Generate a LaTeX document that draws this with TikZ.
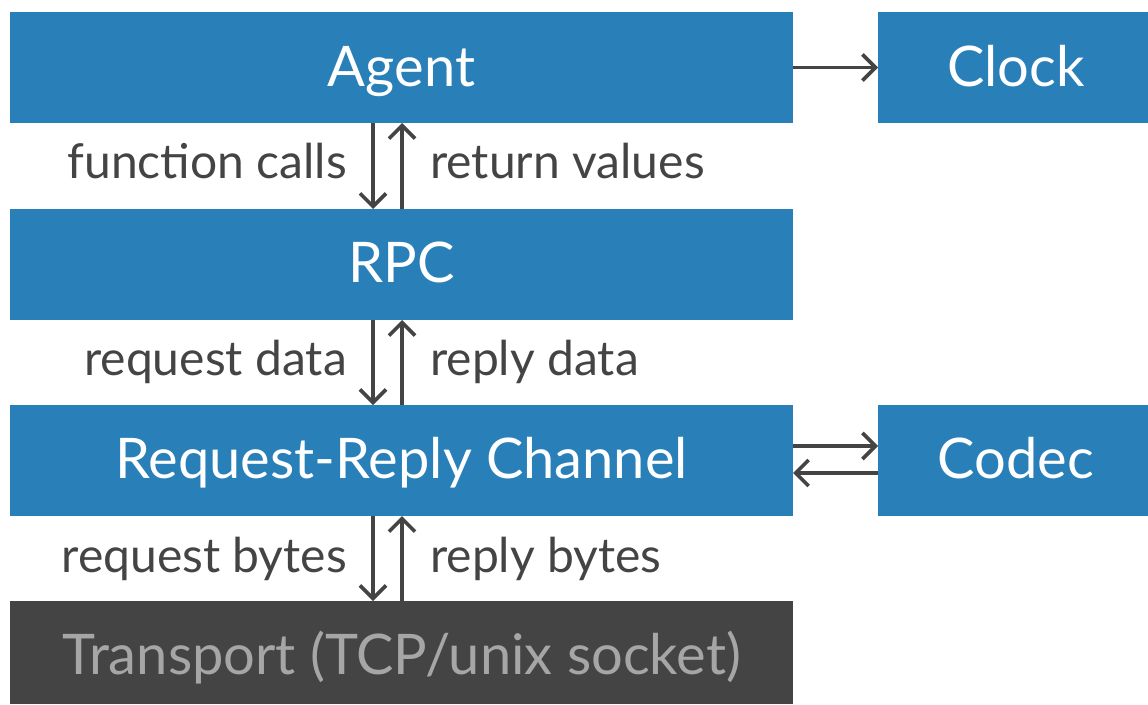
\documentclass[tikz,border=0pt]{standalone}
\usepackage{fontspec}
\setmainfont{Lato}
\usetikzlibrary{arrows.meta}
\definecolor{boxblue}{HTML}{2980B9}
\definecolor{darkbox}{HTML}{444444}
\definecolor{graytext}{HTML}{A6A6A6}
\definecolor{arrowc}{HTML}{444444}
\begin{document}
\begin{tikzpicture}[x=1pt,y=-1pt,
  blk/.style={fill=boxblue,draw=none,inner sep=0pt,text=white,font=\fontsize{56}{64}\selectfont},
  dblk/.style={fill=darkbox,draw=none,inner sep=0pt,text=graytext,font=\fontsize{56}{64}\selectfont},
  lbl/.style={inner sep=0pt,text=arrowc,font=\fontsize{48}{56}\selectfont},
  arr/.style={draw=arrowc,line width=3.6pt,-{Straight Barb[length=13pt,width=26pt,line width=3.6pt]}}]
\useasboundingbox (0,0) rectangle (1148,704);
\path[blk] (10,12) rectangle (793,123);
\node[blk,fill=none,anchor=base] (agent) at (401.5,86) {Agent};
\coordinate (agentE) at (793,67.5);
\path[blk] (878,12) rectangle (1148,123);
\node[blk,fill=none,anchor=base] (clock) at (1016,86) {Clock};
\coordinate (clockW) at (878,67.5);
\path[blk] (10,209) rectangle (793,320);
\node[blk,fill=none,anchor=base] (rpc) at (401.5,282) {RPC};
\path[blk] (10,405) rectangle (793,516);
\node[blk,fill=none,anchor=base] (rrc) at (401.5,478) {Request-Reply Channel};
\path[blk] (878,405) rectangle (1148,516);
\node[blk,fill=none,anchor=base] (codec) at (1016,478) {Codec};
\path[dblk] (10,601) rectangle (793,704);
\node[dblk,fill=none,anchor=base] (transport) at (401.5,674) {Transport (TCP/unix socket)};
% coordinates for arrow ends
\foreach \n/\t/\b in {a/123/209,b/320/405,c/516/601}{
  \coordinate (\n dt) at (373,\t); \coordinate (\n db) at (373,\b);
  \coordinate (\n ut) at (402,\t); \coordinate (\n ub) at (402,\b);
}
\draw[arr] (agentE) -- (clockW);
\coordinate (rrcE1) at (793,446); \coordinate (codecW1) at (878,446);
\coordinate (rrcE2) at (793,473); \coordinate (codecW2) at (878,473);
\draw[arr] (rrcE1) -- (codecW1);
\draw[arr] (codecW2) -- (rrcE2);
\foreach \n in {a,b,c}{
  \draw[arr] (\n dt) -- (\n db);
  \draw[arr] (\n ub) -- (\n ut);
}
\node[lbl,anchor=base east] (l1) at (347,178) {function calls};
\node[lbl,anchor=base west] (r1) at (430,178) {return values};
\node[lbl,anchor=base east] (l2) at (347,375) {request data};
\node[lbl,anchor=base west] (r2) at (430,375) {reply data};
\node[lbl,anchor=base east] (l3) at (347,572) {request bytes};
\node[lbl,anchor=base west] (r3) at (430,572) {reply bytes};
\end{tikzpicture}
\end{document}
